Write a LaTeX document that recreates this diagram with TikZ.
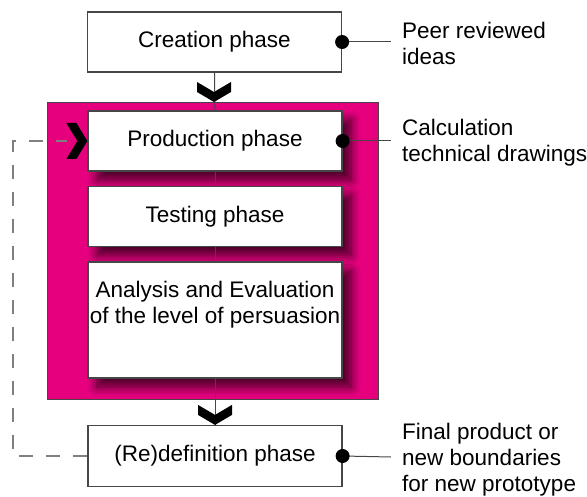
\documentclass[tikz,border=0pt]{standalone}
\usepackage{fontspec}
\setmainfont{Liberation Sans}
\usetikzlibrary{shadows.blur}
\definecolor{phasepink}{RGB}{230,0,126}
\definecolor{edgegray}{RGB}{70,70,70}
\tikzset{
  phasebox/.style={draw=edgegray, line width=1.2pt, fill=white, minimum width=254, minimum height=60, inner sep=2pt, align=center},
  inbox/.style={phasebox, blur shadow={shadow xshift=9pt, shadow yshift=-9pt, shadow blur radius=9pt, shadow opacity=70, shadow blur steps=12}},
  note/.style={anchor=west, inner sep=0pt, align=left},
  notedot/.style={fill=black},
  flowline/.style={draw=edgegray, line width=1pt},
  loopline/.style={draw=gray, line width=1.3pt, dash pattern=on 14pt off 13pt},
  chevdown/.pic={\fill (-17,-20) -- (0,-10) -- (17,-20) -- (17,-10) -- (0,0) -- (-17,-10) -- cycle;},
  chevright/.pic={\fill (-21,-18) -- (-11,-18) -- (0,0) -- (-11,18) -- (-21,18) -- (-10,0) -- cycle;}
}
\begin{document}
\begin{tikzpicture}[x=1pt, y=-1pt, font=\fontsize{22.5}{26}\selectfont]
\useasboundingbox (0,0) rectangle (587,497);
% magenta frame
\filldraw[fill=phasepink, draw=edgegray, line width=0.8pt] (47,102) rectangle (378,399);
% phases
\node[phasebox] (creation) at (214.5,42) {Creation phase};
\node[inbox] (production) at (215,141) {Production phase};
\node[inbox] (testing) at (215,216.5) {Testing phase};
\node[inbox, minimum height=116] (analysis) at (215,320) {Analysis and Evaluation\\of the level of persuasion\\[2pt]\strut};
\node[phasebox, minimum height=61] (redefinition) at (215,456) {(Re)definition phase};
% flow
\draw[flowline] (creation.south) -- (production.north);
\draw[flowline] (production.south) -- (testing.north);
\draw[flowline] (testing.south) -- (analysis.north);
\draw[flowline] (analysis.south) -- (redefinition.north);
\pic at (214,102) {chevdown};
\pic at (redefinition.north) {chevdown};
\pic at (production.west) {chevright};
% outputs
\node[note] (peer) at (402,43) {Peer reviewed\\ideas};
\node[note] (calc) at (402,143) {Calculation\\technical drawings};
\node[note] (final) at (402,460) {Final product or\\new boundaries\\for new prototype};
\foreach \b/\y in {creation/42, production/141, redefinition/457} {
  \draw[flowline] (\b.east) -- (391,\y);
  \fill[notedot] (\b.east) circle (7);
}
% feedback loop
\coordinate (loopx) at (13,0);
\coordinate (loopend) at (67,141);
\draw[loopline] (redefinition.west) -- (redefinition.west -| loopx) -- (loopend -| loopx) -- (loopend);
\end{tikzpicture}
\end{document}
